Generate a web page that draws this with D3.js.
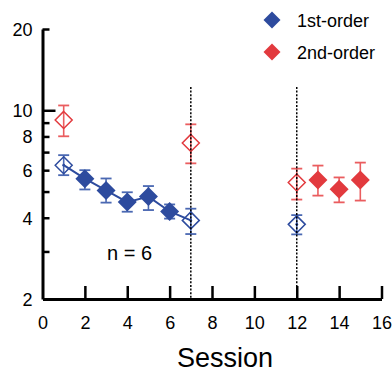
<!DOCTYPE html>
<html><head><meta charset="utf-8">
<script src="https://cdn.jsdelivr.net/npm/d3@7/dist/d3.min.js"></script>
<style>
body{margin:0;background:#fff;}
svg{display:block;font-family:"Liberation Sans",Arial,sans-serif;}
</style></head>
<body><svg id="c" width="392" height="374"></svg>
<script>
// ---- data ----
const firstSessions = [1, 2, 3, 4, 5, 6, 7, 12];
const firstMean     = [6.26, 5.58, 5.05, 4.57, 4.79, 4.22, 3.91, 3.78];
const firstHi       = [6.82, 6.00, 5.59, 4.97, 5.24, 4.48, 4.32, 4.09];
const firstLo       = [5.75, 5.09, 4.55, 4.21, 4.27, 3.97, 3.48, 3.47];
const firstFilled   = [false, true, true, true, true, true, false, false];
const firstLineSessions = [1, 2, 3, 4, 5, 6, 7];

const secondSessions = [1, 7, 12, 13, 14, 15];
const secondMean     = [9.21, 7.57, 5.40, 5.52, 5.10, 5.52];
const secondHi       = [10.42, 8.87, 6.08, 6.24, 5.64, 6.40];
const secondLo       = [8.01, 6.36, 4.67, 4.83, 4.56, 4.63];
const secondFilled   = [false, false, false, true, true, true];

const dividerSessions = [7, 12];
const dividerTop = 12.2;

const xTicks = [0, 2, 4, 6, 8, 10, 12, 14, 16];
const yTicks = [2, 3, 4, 5, 6, 7, 8, 9, 10, 20];
const yLabels = [2, 4, 6, 8, 10, 20];
const legendLabels = ["1st-order", "2nd-order"];
const xTitle = "Session";
const note = "n = 6";

// ---- styling ----
const BLUE = "#2d4b9e", BLUE_ERR = "#4a68b2";
const RED = "#e23a3e", RED_ERR = "#ea5d5f";

const svg = d3.select("#c");
const x = d3.scaleLinear().domain([0, 16]).range([42.5, 381.5]);
const y = d3.scaleLog().domain([2, 20]).range([299, 29]);

// axes
const xAxis = svg.append("g").attr("transform", "translate(0,299)")
  .call(d3.axisBottom(x).tickValues(xTicks).tickSize(-13).tickSizeOuter(0).tickPadding(17).tickFormat(d3.format("d")));
xAxis.select(".domain").attr("stroke-width", 3).attr("stroke", "#000");
xAxis.selectAll(".tick line").attr("stroke-width", 2.5).attr("stroke", "#000");
xAxis.selectAll(".tick").filter(d => d === 0).select("line").remove();
xAxis.selectAll("text").attr("font-size", 18).attr("fill", "#000").attr("font-family", "Liberation Sans, Arial, sans-serif");

const yAxis = svg.append("g").attr("transform", "translate(42.5,0)")
  .call(d3.axisLeft(y).tickValues(yTicks).tickSize(-7).tickSizeOuter(0).tickPadding(10)
    .tickFormat(d => yLabels.includes(d) ? String(d) : ""));
yAxis.select(".domain").attr("stroke-width", 3).attr("stroke", "#000");
yAxis.selectAll(".tick line").attr("stroke-width", 2.5).attr("stroke", "#000")
  .attr("x2", d => d === 10 ? 13 : 7);
yAxis.selectAll(".tick").filter(d => d === 2).select("line").remove();
yAxis.selectAll("text").attr("font-size", 18).attr("fill", "#000").attr("font-family", "Liberation Sans, Arial, sans-serif").attr("dy", "0.36em");

const diamond = h => `M0,${-h}L${h},0L0,${h}L${-h},0Z`;

function drawSeries(sessions, mean, hi, lo, filled, col, errCol) {
  const data = sessions.map((s, i) => ({s, m: mean[i], hi: hi[i], lo: lo[i], f: filled[i]}));
  const g = svg.append("g");
  g.selectAll("line.err").data(data).join("line")
    .attr("x1", d => x(d.s)).attr("x2", d => x(d.s))
    .attr("y1", d => y(d.hi)).attr("y2", d => y(d.lo))
    .attr("stroke", errCol).attr("stroke-width", 1.6);
  g.selectAll("line.capT").data(data).join("line")
    .attr("x1", d => x(d.s) - 5.5).attr("x2", d => x(d.s) + 5.5)
    .attr("y1", d => y(d.hi)).attr("y2", d => y(d.hi))
    .attr("stroke", errCol).attr("stroke-width", 1.8);
  g.selectAll("line.capB").data(data).join("line")
    .attr("x1", d => x(d.s) - 5.5).attr("x2", d => x(d.s) + 5.5)
    .attr("y1", d => y(d.lo)).attr("y2", d => y(d.lo))
    .attr("stroke", errCol).attr("stroke-width", 1.8);
  return {g, data};
}

// blue line
const lineData = firstLineSessions.map(s => ({s, m: firstMean[firstSessions.indexOf(s)]}));
svg.append("path").datum(lineData)
  .attr("d", d3.line().x(d => x(d.s)).y(d => y(d.m)))
  .attr("fill", "none").attr("stroke", BLUE).attr("stroke-width", 2);

const b = drawSeries(firstSessions, firstMean, firstHi, firstLo, firstFilled, BLUE, BLUE_ERR);
const r = drawSeries(secondSessions, secondMean, secondHi, secondLo, secondFilled, RED, RED_ERR);

function markers(s, col) {
  s.g.selectAll("path.mk").data(s.data).join("path")
    .attr("transform", d => `translate(${x(d.s)},${y(d.m)})`)
    .attr("d", d => d.f ? diamond(9.5) : diamond(8.5))
    .attr("fill", d => d.f ? col : "none")
    .attr("stroke", col).attr("stroke-width", d => d.f ? 0 : 1.5);
}
markers(b, BLUE);
markers(r, RED);
b.g.selectAll("circle.dot").data(b.data.filter(d => !d.f)).join("circle")
  .attr("cx", d => x(d.s)).attr("cy", d => y(d.m)).attr("r", 1.4).attr("fill", BLUE);

// dotted dividers
svg.selectAll("line.div").data(dividerSessions).join("line")
  .attr("x1", d => x(d)).attr("x2", d => x(d))
  .attr("y1", y(dividerTop)).attr("y2", y(2))
  .attr("stroke", "#000").attr("stroke-width", 1.5).attr("stroke-dasharray", "2,1.6");

// legend
const legCols = [BLUE, RED];
const leg = svg.append("g");
legendLabels.forEach((t, i) => {
  const ly = 20 + i * 32;
  leg.append("path").attr("transform", `translate(272,${ly})`).attr("d", diamond(8.5)).attr("fill", legCols[i]);
  leg.append("text").attr("x", 297).attr("y", ly + 6.5).attr("font-size", 18).text(t);
});

// note and title
svg.append("text").attr("x", 107).attr("y", 260).attr("font-size", 20).text(note);
svg.append("text").attr("x", 225).attr("y", 367).attr("text-anchor", "middle").attr("font-size", 27).text(xTitle);
</script>
</body></html>
